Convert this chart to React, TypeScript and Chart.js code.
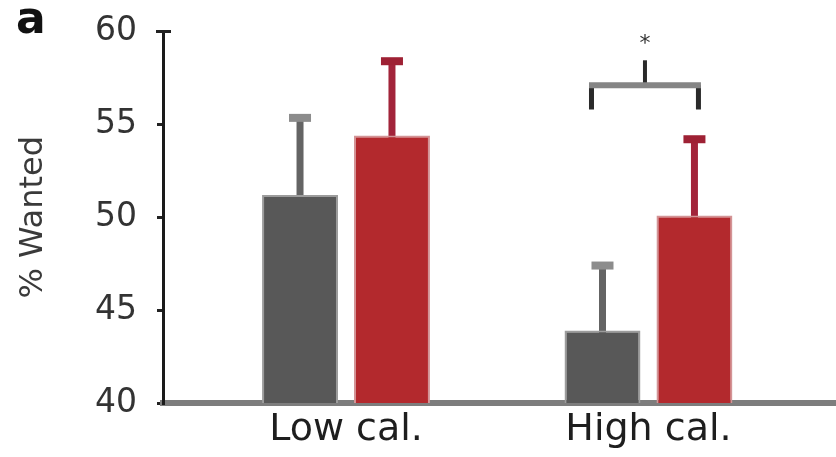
import React, { useEffect, useRef } from 'react';
import { Chart, registerables } from 'chart.js';

Chart.register(...registerables);

// ---- data ----
const CATEGORIES = ['Low cal.', 'High cal.'];
const SERIES_NAMES = ['Gray', 'Red'];
const GRAY_VALUES = [51.2, 43.9];
const GRAY_ERRORS = [4.15, 3.5];
const RED_VALUES = [54.4, 50.1];
const RED_ERRORS = [4.0, 4.1];
const Y_MIN = 40;
const Y_MAX = 60;
const Y_STEP = 5;
const Y_TITLE = '% Wanted';
const PANEL_LABEL = 'a';
const SIG_LABEL = '*';
const SIG_CATEGORY = 1;
const BRACKET_TICK_TOP = 58.45;
const BRACKET_BAR = 57.1;
const BRACKET_LEG_END = 55.8;
const SIG_LABEL_LEVEL = 59.7;

const VALUES = [GRAY_VALUES, RED_VALUES];
const ERRORS = [GRAY_ERRORS, RED_ERRORS];
const FILLS = ['#585858', '#b3292d'];
const EDGES = ['#9c9c9c', '#d39496'];
const ERR_LINE = ['#646464', '#a2243a'];
const ERR_CAP = ['#8c8c8c', '#9e2134'];

const FONT = 'DejaVu Sans';

const annotationPlugin = {
  id: 'annotations',
  beforeDatasetsDraw(chart: any) {
    const ctx = chart.ctx;
    const ys = chart.scales.y;
    chart.data.datasets.forEach((_ds: any, di: number) => {
      const meta = chart.getDatasetMeta(di);
      meta.data.forEach((bar: any, i: number) => {
        const top = ys.getPixelForValue(VALUES[di][i] + ERRORS[di][i]);
        ctx.save();
        ctx.strokeStyle = ERR_LINE[di];
        ctx.lineWidth = 7;
        ctx.beginPath();
        ctx.moveTo(bar.x, bar.y + 4);
        ctx.lineTo(bar.x, top);
        ctx.stroke();
        ctx.fillStyle = ERR_CAP[di];
        ctx.fillRect(bar.x - 11, top - 4, 22, 8);
        ctx.restore();
      });
    });
  },
  afterDraw(chart: any) {
    const ctx = chart.ctx;
    const ys = chart.scales.y;
    const area = chart.chartArea;
    ctx.save();
    // top cap of y axis
    ctx.strokeStyle = '#222';
    ctx.lineWidth = 3;
    const yTop = ys.getPixelForValue(Y_MAX);
    ctx.beginPath();
    ctx.moveTo(area.left - 7, yTop);
    ctx.lineTo(area.left + 8, yTop);
    ctx.stroke();

    // significance bracket
    const g = chart.getDatasetMeta(0).data[SIG_CATEGORY];
    const r = chart.getDatasetMeta(1).data[SIG_CATEGORY];
    const xl = g.x - 11;
    const xr = r.x + 4;
    const xm = (xl + xr) / 2;
    const yb = ys.getPixelForValue(BRACKET_BAR);
    const yl = ys.getPixelForValue(BRACKET_LEG_END);
    const yt = ys.getPixelForValue(BRACKET_TICK_TOP);
    ctx.strokeStyle = '#2a2a2a';
    ctx.lineWidth = 5;
    ctx.beginPath();
    ctx.moveTo(xl, yb);
    ctx.lineTo(xl, yl);
    ctx.moveTo(xr, yb);
    ctx.lineTo(xr, yl);
    ctx.stroke();
    ctx.lineWidth = 4;
    ctx.beginPath();
    ctx.moveTo(xm, yb);
    ctx.lineTo(xm, yt);
    ctx.stroke();
    ctx.strokeStyle = '#858585';
    ctx.lineWidth = 6;
    ctx.beginPath();
    ctx.moveTo(xl - 2.5, yb);
    ctx.lineTo(xr + 2.5, yb);
    ctx.stroke();

    // star
    ctx.fillStyle = '#333';
    ctx.font = `22px "${FONT}"`;
    ctx.textAlign = 'center';
    ctx.textBaseline = 'alphabetic';
    ctx.fillText(SIG_LABEL, xm, ys.getPixelForValue(SIG_LABEL_LEVEL) + 13);

    // panel label
    ctx.fillStyle = '#111';
    ctx.font = `bold 44px "${FONT}"`;
    ctx.textAlign = 'left';
    ctx.fillText(PANEL_LABEL, 16, 33);
    ctx.restore();
  },
};

export default function App() {
  const canvasRef = useRef<HTMLCanvasElement | null>(null);

  useEffect(() => {
    if (!canvasRef.current) return;
    const datasets = VALUES.map((vals, di) => ({
      label: SERIES_NAMES[di],
      data: vals.map((v, i) => ({ x: i + 1, y: v })),
      backgroundColor: FILLS[di],
      borderColor: EDGES[di],
      borderWidth: 2,
      borderSkipped: 'bottom',
      categoryPercentage: 0.608,
      barPercentage: 0.826,
    }));
    const chart = new Chart(canvasRef.current, {
      type: 'bar',
      data: { datasets },
      plugins: [annotationPlugin],
      options: {
        animation: false,
        responsive: false,
        layout: { padding: { top: 31.5, left: 0, right: 0, bottom: 0 } },
        plugins: { legend: { display: false }, tooltip: { enabled: false } },
        scales: {
          x: {
            type: 'linear',
            min: 0.395,
            max: 2.62,
            offset: false,
            bounds: 'data',
            afterBuildTicks: (s: any) => {
              s.ticks = CATEGORIES.map((_c, i) => ({ value: i + 1 }));
            },
            afterFit: (s: any) => {
              s.height = 54;
              s.paddingLeft = 0;
              s.paddingRight = 0;
            },
            grid: { display: false, drawTicks: false, offset: false },
            border: { display: true, color: '#7d7d7d', width: 6 },
            ticks: {
              autoSkip: false,
              maxRotation: 0,
              padding: 4,
              color: '#1e1e1e',
              font: { family: FONT, size: 38 },
              callback: (_v: any, i: number) => CATEGORIES[i],
            },
          },
          y: {
            min: Y_MIN,
            max: Y_MAX,
            afterFit: (s: any) => {
              s.width = 163;
              s.paddingTop = 0;
              s.paddingBottom = 0;
            },
            grid: {
              display: true,
              drawOnChartArea: false,
              drawTicks: true,
              tickLength: 6,
              color: '#222',
              lineWidth: 3,
            },
            border: { display: true, color: '#1a1a1a', width: 3 },
            ticks: {
              stepSize: Y_STEP,
              padding: 20,
              color: '#333',
              font: { family: FONT, size: 33 },
            },
            title: {
              display: true,
              text: Y_TITLE,
              color: '#3a3a3a',
              font: { family: FONT, size: 32 },
              padding: { top: 14, bottom: 0 },
            },
          },
        },
      } as any,
    });
    return () => chart.destroy();
  }, []);

  return (
    <div style={{ position: 'fixed', left: 0, top: 0, width: 836, height: 457, background: '#fff' }}>
      <canvas ref={canvasRef} width={836} height={457} />
    </div>
  );
}
